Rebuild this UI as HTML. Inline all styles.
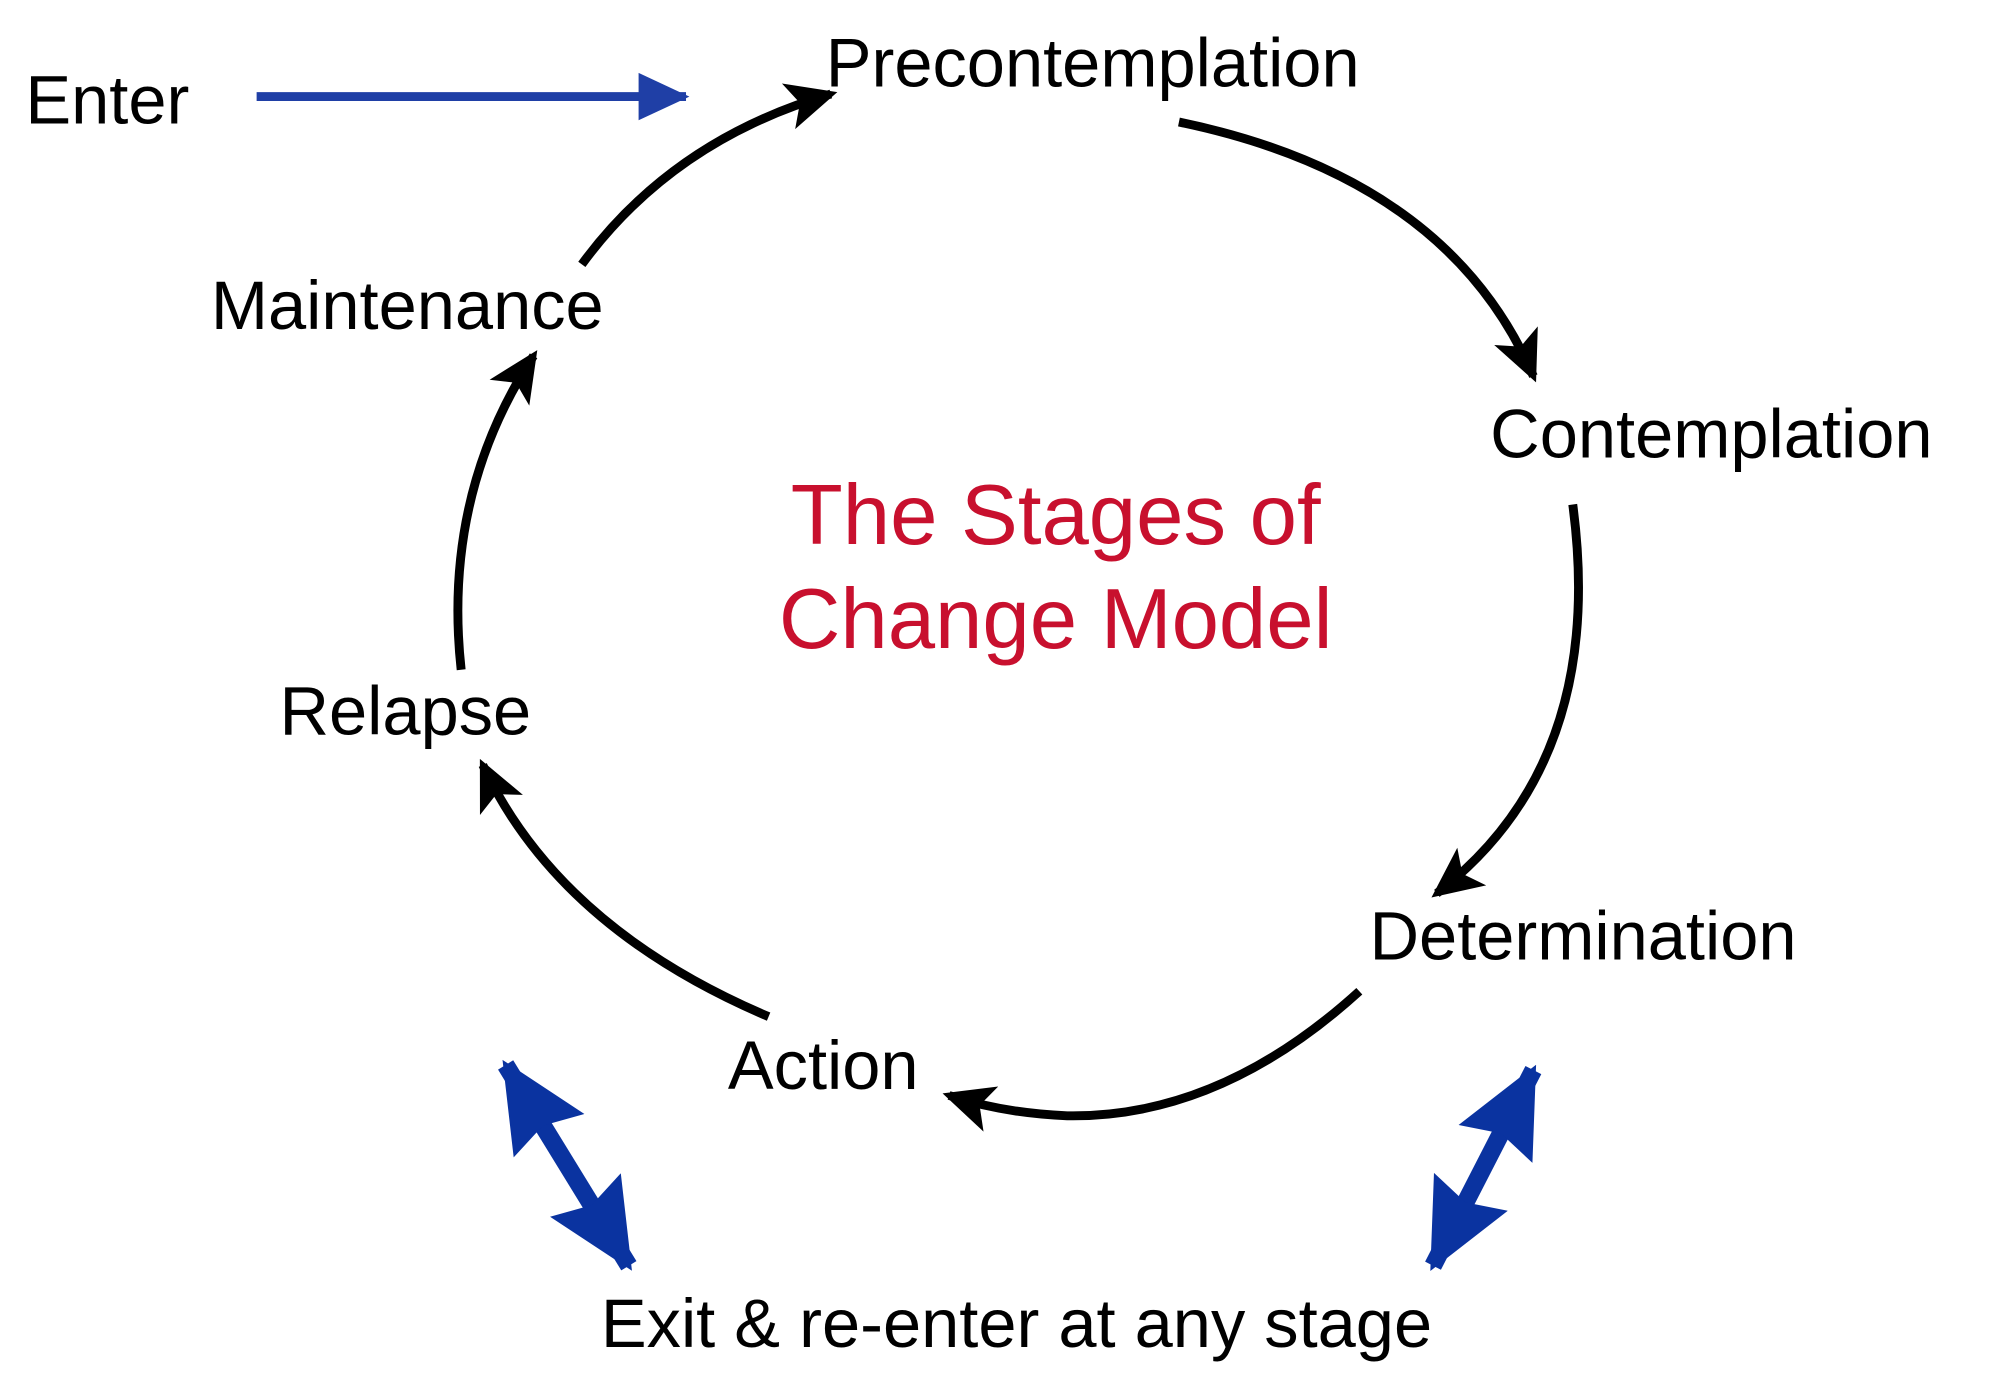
<!DOCTYPE html>
<html><head><meta charset="utf-8"><style>
html,body{margin:0;padding:0;background:#fff;}
svg{display:block;}
text{font-family:"Liberation Sans",Arial,sans-serif;font-size:54px;fill:#000;}
</style></head><body>
<svg width="1992" height="1389" viewBox="0 0 1568 1093" preserveAspectRatio="none" xmlns="http://www.w3.org/2000/svg">
<defs>
<marker id="bk" markerUnits="userSpaceOnUse" markerWidth="40" markerHeight="40" viewBox="0 0 30 28" refX="26" refY="14" orient="auto">
<path d="M0,0 L30,14 L0,28 L7,14 Z" fill="#000"/>
</marker>
<marker id="bl" markerUnits="userSpaceOnUse" markerWidth="40" markerHeight="40" viewBox="0 0 30 30" refX="28" refY="15" orient="auto">
<path d="M0,1 L30,15 L0,29 Z" fill="#1f3fa6"/>
</marker>
<marker id="bb" markerUnits="userSpaceOnUse" markerWidth="70" markerHeight="70" viewBox="0 0 60 56" refX="56" refY="28" orient="auto-start-reverse">
<path d="M0,0 L60,28 L0,56 L8,28 Z" fill="#0a33a0"/>
</marker>
</defs>
<rect width="1568" height="1093" fill="#fff"/>
<!-- enter arrow -->
<line x1="202" y1="76" x2="540" y2="76" stroke="#1f3fa6" stroke-width="7" marker-end="url(#bl)"/>
<!-- cycle arrows -->
<g fill="none" stroke="#000" stroke-width="7">
<path d="M458,208 Q530,110 654,74" marker-end="url(#bk)"/>
<path d="M928,96 Q1140,140 1207,296" marker-end="url(#bk)"/>
<path d="M1238,397 Q1265,600 1131,703" marker-end="url(#bk)"/>
<path d="M1070,780 Q960,880 840,878 Q790,876 747,862" marker-end="url(#bk)"/>
<path d="M605,800 Q440,730 380,602" marker-end="url(#bk)"/>
<path d="M363,527 Q348,390 420,280" marker-end="url(#bk)"/>
</g>
<!-- blue double arrows -->
<line x1="398" y1="838" x2="495" y2="996" stroke="#0a33a0" stroke-width="14" marker-start="url(#bb)" marker-end="url(#bb)"/>
<line x1="1207" y1="842" x2="1128" y2="996" stroke="#0a33a0" stroke-width="14" marker-start="url(#bb)" marker-end="url(#bb)"/>
<!-- labels -->
<text x="20" y="97">Enter</text>
<text x="650" y="68">Precontemplation</text>
<text x="166" y="259">Maintenance</text>
<text x="1173" y="360">Contemplation</text>
<text x="220" y="578">Relapse</text>
<text x="1078" y="755">Determination</text>
<text x="573" y="857">Action</text>
<text x="473" y="1060">Exit &amp; re-enter at any stage</text>
<text x="831" y="428" text-anchor="middle" style="fill:#c8102e;font-size:67px">The Stages of</text>
<text x="831" y="510" text-anchor="middle" style="fill:#c8102e;font-size:67px">Change Model</text>
</svg>
</body></html>
